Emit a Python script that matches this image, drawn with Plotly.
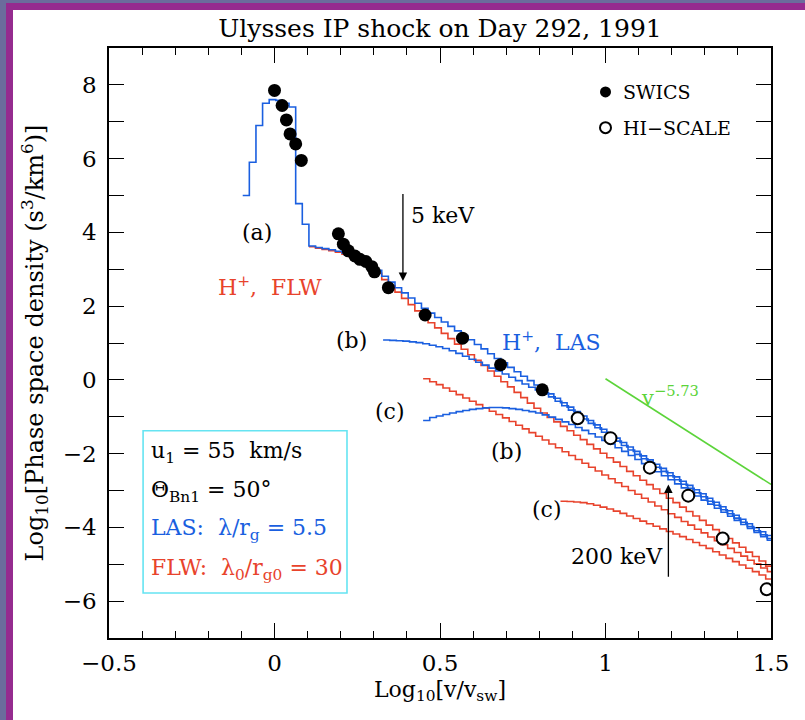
import numpy as np
import plotly.graph_objects as go

# ---------------- data ----------------
swics_x = [0.0, 0.023, 0.036, 0.047, 0.064, 0.081,
           0.193, 0.208, 0.223, 0.243, 0.258, 0.276, 0.294, 0.302,
           0.344, 0.455, 0.568, 0.683, 0.809]
swics_y = [7.85, 7.44, 7.05, 6.67, 6.40, 5.95,
           3.96, 3.68, 3.50, 3.36, 3.27, 3.21, 3.07, 2.93,
           2.50, 1.76, 1.13, 0.41, -0.27]

hiscale_x = [0.916, 1.015, 1.134, 1.250, 1.354, 1.487]
hiscale_y = [-1.04, -1.58, -2.38, -3.14, -4.30, -5.68]

# blue (a) low-energy histogram head: bin left edges and values
head_x = [-0.096, -0.076, -0.056, -0.036, -0.016, 0.004, 0.024, 0.044, 0.064, 0.084]
head_y = [5.0, 5.9, 6.9, 7.5, 7.6, 7.58, 7.5, 7.4, 4.78, 4.22]

BIN = 0.02  # bin width of tail histograms
X_END = 1.52

las_a_x0 = 0.104
las_a = [3.63, 3.59, 3.56, 3.53, 3.49, 3.44, 3.38, 3.31, 3.22, 3.11,
         2.97, 2.81, 2.65, 2.50, 2.36, 2.22, 2.08, 1.94, 1.81, 1.69,
         1.57, 1.45, 1.33, 1.21, 1.09, 0.96, 0.84, 0.71, 0.58, 0.46,
         0.34, 0.22, 0.10, -0.02, -0.14, -0.26, -0.38, -0.50, -0.62, -0.74,
         -0.86, -0.98, -1.10, -1.22, -1.34, -1.46, -1.58, -1.70, -1.82, -1.94,
         -2.06, -2.17, -2.29, -2.40, -2.52, -2.63, -2.75, -2.86, -2.98, -3.09,
         -3.21, -3.32, -3.44, -3.55, -3.67, -3.78, -3.90, -4.01, -4.12, -4.22]

flw_a_x0 = 0.104
flw_a = [3.61, 3.57, 3.54, 3.50, 3.46, 3.41, 3.35, 3.27, 3.17, 3.06,
         2.89, 2.72, 2.55, 2.38, 2.21, 2.04, 1.87, 1.70, 1.55, 1.41,
         1.26, 1.12, 0.97, 0.83, 0.68, 0.53, 0.39, 0.24, 0.10, -0.05,
         -0.19, -0.34, -0.48, -0.63, -0.77, -0.90, -1.02, -1.14, -1.26, -1.38,
         -1.50, -1.62, -1.75, -1.87, -1.99, -2.11, -2.23, -2.35, -2.48, -2.60,
         -2.72, -2.84, -2.96, -3.08, -3.21, -3.33, -3.45, -3.57, -3.69, -3.81,
         -3.94, -4.06, -4.18, -4.30, -4.42, -4.54, -4.67, -4.79, -4.91, -5.05]

las_b_x0 = 0.328
las_b = [1.08, 1.07, 1.06, 1.05, 1.03, 1.01, 0.98, 0.94, 0.90, 0.85,
         0.79, 0.72, 0.64, 0.56, 0.48, 0.40, 0.32, 0.24, 0.16, 0.07,
         -0.02, -0.11, -0.20, -0.27, -0.35, -0.46, -0.58, -0.70, -0.82, -0.94,
         -1.06, -1.18, -1.30, -1.42, -1.54, -1.66, -1.78, -1.90, -2.02, -2.14,
         -2.25, -2.37, -2.48, -2.60, -2.71, -2.83, -2.94, -3.06, -3.17, -3.29,
         -3.40, -3.52, -3.63, -3.75, -3.86, -3.98, -4.09, -4.20, -4.30]

las_c_x0 = 0.449
las_c = [-1.10, -1.02, -0.98, -0.94, -0.90, -0.86, -0.83, -0.80, -0.78, -0.76,
         -0.75, -0.75, -0.76, -0.78, -0.80, -0.83, -0.86, -0.90, -0.95, -1.01,
         -1.07, -1.14, -1.21, -1.29, -1.37, -1.46, -1.55, -1.64, -1.74, -1.84,
         -1.94, -2.05, -2.16, -2.27, -2.38, -2.49, -2.60, -2.71, -2.82, -2.93,
         -3.04, -3.15, -3.26, -3.37, -3.48, -3.59, -3.70, -3.81, -3.92, -4.03,
         -4.14, -4.25, -4.35]

flw_b_x0 = 0.449
flw_b = [0.03, -0.05, -0.13, -0.22, -0.31, -0.40, -0.49, -0.58, -0.67, -0.76,
         -0.85, -0.94, -1.03, -1.13, -1.23, -1.33, -1.43, -1.53, -1.63, -1.74,
         -1.84, -1.95, -2.05, -2.16, -2.26, -2.37, -2.47, -2.58, -2.68, -2.79,
         -2.89, -3.00, -3.10, -3.21, -3.31, -3.42, -3.52, -3.63, -3.73, -3.84,
         -3.94, -4.05, -4.15, -4.26, -4.36, -4.47, -4.57, -4.68, -4.78, -4.89,
         -4.99, -5.10, -5.20]

flw_c_x0 = 0.864
flw_c = [-3.29, -3.30, -3.31, -3.33, -3.36, -3.40, -3.45, -3.50, -3.56, -3.62,
         -3.69, -3.76, -3.83, -3.90, -3.97, -4.04, -4.11, -4.18, -4.25, -4.33,
         -4.41, -4.49, -4.57, -4.66, -4.75, -4.84, -4.93, -5.02, -5.11, -5.20,
         -5.29, -5.40]

powerlaw_x = [1.0, 1.5]
powerlaw_y = [0.03, -2.835]

xticks = [-0.5, 0, 0.5, 1, 1.5]
xticklabels = ["\u22120.5", "0", "0.5", "1", "1.5"]
yticks = [-6, -4, -2, 0, 2, 4, 6, 8]
yticklabels = ["\u22126", "\u22124", "\u22122", "0", "2", "4", "6", "8"]

BLUE = "#1a5fe0"
RED = "#e8432c"
GREEN = "#5cd43a"
CYAN = "#66e4f2"
FONT = "DejaVu Serif"
ANN = 22


def steps(x0, vals, head=None):
    xs = list(x0 + BIN * np.arange(len(vals)))
    ys = list(vals)
    if head is not None:
        xs = list(head[0]) + xs
        ys = list(head[1]) + ys
    xs.append(min(X_END, xs[-1] + BIN))
    ys.append(ys[-1])
    return xs, ys


fig = go.Figure()


def add_curve(xy, color, width=1.6):
    fig.add_trace(go.Scatter(x=xy[0], y=xy[1], mode="lines", line_shape="hv",
                             line=dict(color=color, width=width),
                             showlegend=False, hoverinfo="skip"))


add_curve(steps(flw_c_x0, flw_c), RED)
add_curve(steps(flw_b_x0, flw_b), RED)
add_curve(steps(flw_a_x0, flw_a), RED)
add_curve(steps(las_c_x0, las_c), BLUE)
add_curve(steps(las_b_x0, las_b), BLUE)
add_curve(steps(las_a_x0, las_a, head=(head_x, head_y)), BLUE)

fig.add_trace(go.Scatter(x=powerlaw_x, y=powerlaw_y, mode="lines",
                         line=dict(color=GREEN, width=1.6), showlegend=False))

fig.add_trace(go.Scatter(x=swics_x, y=swics_y, mode="markers",
                         marker=dict(color="black", size=13), showlegend=False))
fig.add_trace(go.Scatter(x=hiscale_x, y=hiscale_y, mode="markers",
                         marker=dict(color="white", size=12,
                                     line=dict(color="black", width=2)),
                         showlegend=False))

# legend-like markers
fig.add_trace(go.Scatter(x=[1.0], y=[7.81], mode="markers",
                         marker=dict(color="black", size=11), showlegend=False))
fig.add_trace(go.Scatter(x=[1.0], y=[6.84], mode="markers",
                         marker=dict(color="white", size=11,
                                     line=dict(color="black", width=2)),
                         showlegend=False))


def txt(x, y, s, color="black", size=ANN, xanchor="center"):
    fig.add_annotation(x=x, y=y, text=s, showarrow=False, xanchor=xanchor,
                       yanchor="middle", font=dict(family=FONT, size=size, color=color))


txt(1.048, 7.81, "SWICS", size=19, xanchor="left")
txt(1.048, 6.84, "HI\u2212SCALE", size=19, xanchor="left")
txt(-0.053, 4.0, "(a)")
txt(-0.176, 2.55, "H<sup>+</sup>,  FLW", color=RED, xanchor="left")
txt(0.405, 4.45, "5 keV", xanchor="left")
txt(0.234, 1.08, "(b)")
txt(0.68, 1.05, "H<sup>+</sup>,  LAS", color=BLUE, xanchor="left")
txt(0.349, -0.86, "(c)")
txt(0.70, -1.95, "(b)")
txt(0.823, -3.51, "(c)")
txt(1.035, -4.78, "200 keV")
txt(1.10, -0.45, "v<sup>\u22125.73</sup>", color=GREEN, size=21, xanchor="left")

txt(-0.378, -1.97, "u<sub>1</sub> = 55  km/s", xanchor="left")
txt(-0.378, -3.03, "\u0398<sub>Bn1</sub> = 50\u00b0", xanchor="left")
txt(-0.378, -4.05, "LAS:  \u03bb/r<sub>g</sub> = 5.5", color=BLUE, xanchor="left")
txt(-0.378, -5.14, "FLW:  \u03bb<sub>0</sub>/r<sub>g0</sub> = 30", color=RED, xanchor="left")

# arrows
fig.add_annotation(x=0.388, y=2.68, ax=0.388, ay=5.08, axref="x", ayref="y",
                   xref="x", yref="y", text="", showarrow=True, arrowhead=2,
                   arrowsize=1.3, arrowwidth=1.3, arrowcolor="black")
fig.add_annotation(x=1.19, y=-2.84, ax=1.19, ay=-5.38, axref="x", ayref="y",
                   xref="x", yref="y", text="", showarrow=True, arrowhead=2,
                   arrowsize=1.3, arrowwidth=1.3, arrowcolor="black")

# parameter box
fig.add_shape(type="rect", x0=-0.397, x1=0.219, y0=-5.78, y1=-1.38,
              line=dict(color=CYAN, width=1.6))

# page border (slide frame)
W, H = 805, 720
L, R, T, B = 109, 771, 48, 638
pw, ph = R - L, B - T


def px(xp):
    return (xp - L) / pw


def py(yp):
    return (B - yp) / ph


fig.add_shape(type="rect", xref="paper", yref="paper", layer="below",
              x0=px(6), x1=px(820), y0=py(730), y1=py(3),
              fillcolor="#952b8f", line=dict(width=0))
fig.add_shape(type="rect", xref="paper", yref="paper", layer="below",
              x0=px(13), x1=px(820), y0=py(730), y1=py(10),
              fillcolor="white", line=dict(width=0))

axis_common = dict(showgrid=False, zeroline=False, showline=True, linecolor="black",
                   linewidth=1.5, mirror="allticks", ticks="inside", tickcolor="black",
                   tickwidth=1.2, ticklen=15,
                   tickfont=dict(family=FONT, size=23, color="black"))

fig.update_layout(
    width=W, height=H,
    margin=dict(l=L, r=W - R, t=T, b=H - B),
    paper_bgcolor="#6b6c9c", plot_bgcolor="white",
    title=dict(text="Ulysses IP shock on Day 292, 1991", x=(L + R) / 2 / W, xanchor="center",
               y=1 - 28 / H, yanchor="middle",
               font=dict(family=FONT, size=25, color="black")),
    xaxis=dict(range=[-0.5, 1.5], tickvals=xticks, ticktext=xticklabels,
               ticklabelstandoff=4,
               minor=dict(dtick=0.1, tick0=0, ticklen=7, ticks="inside", tickcolor="black",
                          tickwidth=1.2),
               title=dict(text="Log<sub>10</sub>[v/v<sub>sw</sub>]", standoff=6,
                          font=dict(family=FONT, size=22, color="black")),
               **axis_common),
    yaxis=dict(range=[-7, 9], tickvals=yticks, ticktext=yticklabels,
               ticklabelstandoff=6,
               minor=dict(dtick=1, tick0=0, ticklen=15, ticks="inside", tickcolor="black",
                          tickwidth=1.2),
               title=dict(text="Log<sub>10</sub>[Phase space density (s<sup>3</sup>/km<sup>6</sup>)]",
                          standoff=12, font=dict(family=FONT, size=24, color="black")),
               **axis_common),
    showlegend=False,
)

fig.write_html("out.html")
